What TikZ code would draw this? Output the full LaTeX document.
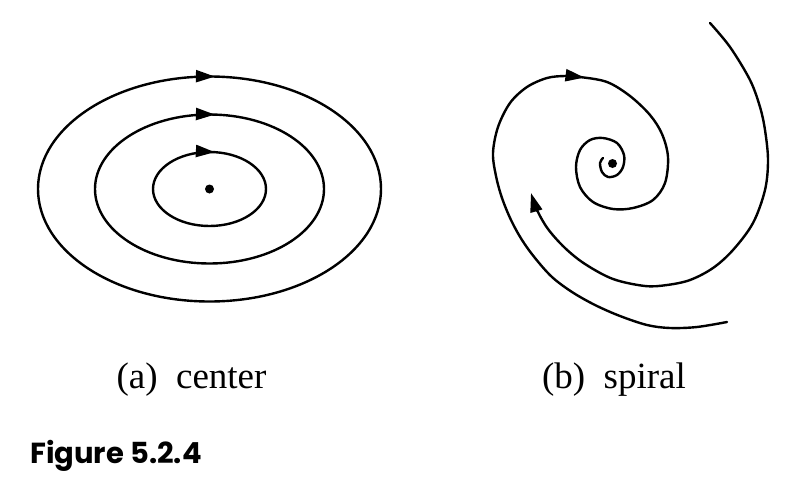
\documentclass[tikz,border=0pt]{standalone}
\usepackage{fontspec}
\setmainfont{Liberation Serif}
\newfontfamily\figfont{Poppins}
\usepackage{tikz}
\usetikzlibrary{arrows.meta}
\usetikzlibrary{decorations.markings}
\tikzset{
  orbit/.style = {line width=2.4pt, black, line cap=round},% trajectoire
  flow_at/.style = {postaction={decorate}, decoration={markings,
    mark=at position #1 with {\arrow{>}}}},% fleche le long de la trajectoire
  fixed_pt/.style = {circle, fill=black, inner sep=0pt,
    minimum size=9pt},% point fixe
  sub_label/.style = {anchor=base, inner sep=0pt,
    font=\fontsize{37}{40}\selectfont},% legende (a), (b)
  fig_label/.style = {anchor=base west, inner sep=0pt,
    font=\figfont\bfseries\fontsize{29}{32}\selectfont}% numero de figure
}

\begin{document}
\begin{tikzpicture}[x=1pt, y=-1pt, >={Triangle[length=19pt, width=12pt]}]
      \useasboundingbox (0,0) rectangle (787,480);
      % (a) centre
      \node [fixed_pt] (c) at (209.5,189) {};
      \draw [orbit, flow_at=0.768] (c.center) ellipse [x radius=56.5, y radius=37];
      \draw [orbit, flow_at=0.759] (c.center) ellipse [x radius=114.5, y radius=74.5];
      \draw [orbit, flow_at=0.756] (c.center) ellipse [x radius=171.5, y radius=112.5];
      % (b) spirale
      \node [fixed_pt] (s) at (612.5,163.5) {};
      \draw [orbit, flow_at=465pt] plot [smooth, tension=0.55] coordinates {
        (727,322) (697,327) (670,328) (647,325) (620,316) (595,305) (572,292)
        (552,277) (535,258) (522,240) (511,220) (502,198) (496,176) (493,153)
        (498,127) (510,103) (527,87) (547,78) (565,76) (580,77) (607,82)
        (630,96) (650,115) (662,134) (668,157) (665,183) (653,200) (633,208)
        (613,209) (593,202) (580,187) (576,167) (580,150) (590,140) (603,138)
        (617,143) (624,155) (623,167) (617,175) (608,177) (602,172) (600,163)
        (603,158)};
      \draw [orbit, ->] plot [smooth, tension=0.55] coordinates {
        (710,23) (730,47) (750,80) (760,107) (765,130) (768,160) (765,190)
        (753,223) (733,250) (713,268) (690,280) (667,285) (645,286) (613,279)
        (585,264) (565,248) (548,229) (537,210) (531,193)};
      % legendes
      \node [sub_label] (la) at (191.5,388) {(a)\hspace{0.5em}center};
      \node [sub_label] (lb) at (614,388) {(b)\hspace{0.5em}spiral};
      \node [fig_label] (fig) at (30,463) {Figure 5.2.4};
\end{tikzpicture}
\end{document}
